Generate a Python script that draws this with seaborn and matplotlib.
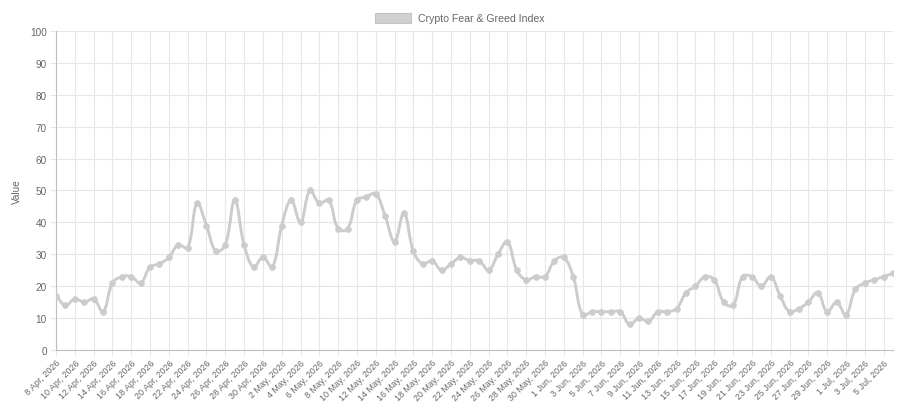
import numpy as np
import pandas as pd
import matplotlib
matplotlib.use("Agg")
import matplotlib.pyplot as plt
from matplotlib.path import Path
from matplotlib.patches import PathPatch, Patch
import seaborn as sns

# daily values, 8 Apr 2026 .. 6 Jul 2026
dates = pd.date_range("2026-04-08", "2026-07-06", freq="D")
values = [
    17, 14, 16, 15, 16, 12, 21, 23, 23, 21,
    26, 27, 29, 33, 32, 46, 39, 31, 33, 47,
    33, 26, 29, 26, 39, 47, 40, 50, 46, 47,
    38, 38, 47, 48, 49, 42, 34, 43, 31, 27,
    28, 25, 27, 29, 28, 28, 25, 30, 34, 25,
    22, 23, 23, 28, 29, 23, 11, 12, 12, 12,
    12, 8, 10, 9, 12, 12, 13, 18, 20, 23,
    22, 15, 14, 23, 23, 20, 23, 17, 12, 13,
    15, 18, 12, 15, 11, 19, 21, 22, 23, 24,
]
series_name = "Crypto Fear & Greed Index"
y_ticks = list(range(0, 101, 10))

LINE = "#cccccc"
TEXT = "#666666"
GRID = "#e6e6e6"
AXIS = "#bfbfbf"


def spline_path(xs, ys, sx, sy, tension=0.4):
    # bezier control points like chart.js, worked out in pixel proportions
    px = np.asarray(xs, float) * sx
    py = np.asarray(ys, float) * sy
    n = len(px)
    c_prev, c_next = [], []
    for i in range(n):
        a = i - 1 if i > 0 else i
        b = i + 1 if i < n - 1 else i
        d01 = np.hypot(px[i] - px[a], py[i] - py[a])
        d12 = np.hypot(px[b] - px[i], py[b] - py[i])
        tot = d01 + d12
        fa = tension * (d01 / tot if tot else 0)
        fb = tension * (d12 / tot if tot else 0)
        dx, dy = px[b] - px[a], py[b] - py[a]
        c_prev.append((px[i] - fa * dx, py[i] - fa * dy))
        c_next.append((px[i] + fb * dx, py[i] + fb * dy))
    verts = [(px[0], py[0])]
    codes = [Path.MOVETO]
    for i in range(1, n):
        verts += [c_next[i - 1], c_prev[i], (px[i], py[i])]
        codes += [Path.CURVE4] * 3
    verts = [(x / sx, min(max(y / sy, 0), 100)) for x, y in verts]
    return Path(verts, codes)


def main():
    sns.set_theme(style="white")
    plt.rcParams["font.family"] = ["Liberation Sans", "DejaVu Sans"]

    df = pd.DataFrame({"idx": np.arange(len(values)), "date": dates, "value": values})
    labels = [f"{d.day} {d.strftime('%b')}, {d.year}" for d in df["date"]]

    fig = plt.figure(figsize=(9.05, 4.1), dpi=100)
    ax = fig.add_axes([0.0619, 0.1439, 0.9248, 0.7781])

    # smooth line, then the points on top
    path = spline_path(df["idx"], df["value"], 9.4, 3.19)
    ax.add_patch(PathPatch(path, facecolor="none", edgecolor=LINE, lw=2.1,
                           capstyle="round", joinstyle="round", zorder=3))
    sns.scatterplot(data=df, x="idx", y="value", ax=ax, color=LINE, s=18,
                    edgecolor=LINE, linewidth=0.5, zorder=4, legend=False)

    ax.set_xlim(0, len(values) - 1)
    ax.set_ylim(0, 100)
    ax.set_yticks(y_ticks)
    ax.set_xticks(df["idx"][::2])
    ax.set_xticklabels(labels[::2], rotation=45, ha="right", rotation_mode="anchor")
    ax.grid(True, color=GRID, linewidth=0.8)
    ax.tick_params(axis="both", colors=GRID, labelcolor=TEXT, length=4.5,
                   width=0.8, direction="out", left=True, bottom=True)
    ax.tick_params(axis="y", labelsize=7.2, pad=2)
    ax.tick_params(axis="x", labelsize=6.4, pad=1)
    for s in ["top", "right"]:
        ax.spines[s].set_visible(False)
    for s in ["left", "bottom"]:
        ax.spines[s].set_color(AXIS)
        ax.spines[s].set_linewidth(0.8)

    ax.set_xlabel("")
    ax.set_ylabel("Value", color=TEXT, fontsize=7.2, labelpad=6)

    handle = Patch(facecolor="#d0d0d0", edgecolor="#c4c4c4", linewidth=0.8)
    leg = fig.legend([handle], [series_name], loc="center",
                     bbox_to_anchor=(0.508, 1 - 19 / 410), frameon=False,
                     handlelength=3.4, handleheight=1.2, handletextpad=0.6,
                     fontsize=7.6)
    for t in leg.get_texts():
        t.set_color(TEXT)

    fig.savefig("out.png", dpi=100)


if __name__ == "__main__":
    main()
